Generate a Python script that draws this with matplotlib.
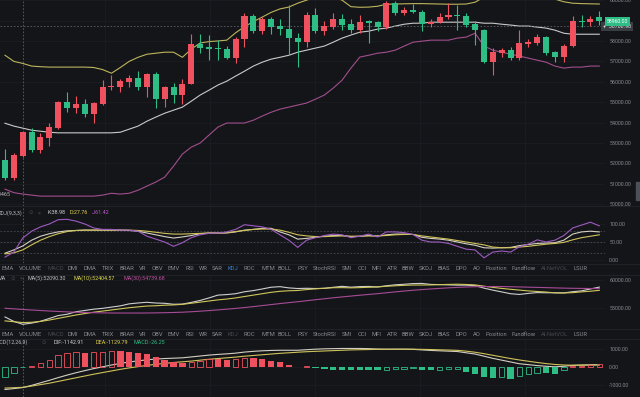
import numpy as np
import matplotlib.pyplot as plt
from matplotlib.patches import Rectangle
from matplotlib.transforms import blended_transform_factory

plt.rcParams['font.family'] = ['Roboto', 'DejaVu Sans']

# candles
opens = [52160, 51280, 52360, 53530, 52650, 53240, 53730, 55000, 54700, 54900,
         54400, 54900, 55740, 55740, 55980, 56180, 55740, 56370, 55150, 55740,
         55350, 55880, 57840, 57700, 57640, 57600, 57160, 58090, 59220, 58480,
         59070, 58730, 58580, 58140, 57940, 59260, 58480, 58690, 59070, 58810,
         58530, 58960, 58910, 58660, 59840, 59350, 59510, 59430, 58820, 58940,
         59180, 59260, 59220, 58810, 58530, 56980, 57420, 57580, 57190, 57860,
         57880, 58170, 57470, 57220, 57750, 58990, 58940, 59150]
closes = [51280, 52405, 53530, 52650, 53290, 53780, 55000, 54700, 54900, 54400,
          54950, 55740, 55790, 56030, 56180, 55740, 56370, 55150, 55740, 55350,
          55880, 57840, 57650, 57600, 57590, 57160, 58090, 59220, 58480, 59070,
          58680, 58580, 58140, 57940, 59260, 58480, 58730, 59100, 58780, 58530,
          58940, 58890, 58660, 59840, 59350, 59510, 59430, 58820, 58940, 59180,
          59260, 59220, 58780, 58530, 56980, 57470, 57580, 57190, 57880, 57930,
          58170, 57420, 57220, 57750, 58990, 58940, 59100, 58960]
highs = [52700, 52500, 53600, 53730, 53480, 53980, 55050, 55500, 55300, 55150,
         55000, 56080, 56330, 56130, 56330, 56520, 56420, 56470, 55800, 55930,
         56130, 58330, 58330, 58280, 58040, 57740, 58190, 59360, 59300, 59150,
         59150, 59060, 59760, 58380, 59400, 59600, 59000, 59350, 59300, 59100,
         59260, 59050, 59000, 59980, 59950, 59650, 59800, 59500, 59100, 59350,
         59850, 59750, 59350, 58960, 58580, 57650, 57650, 57700, 58530, 58100,
         58350, 58250, 57500, 57850, 59200, 59250, 59200, 59450]
lows = [51180, 51200, 52300, 52550, 52500, 52850, 53700, 54500, 54460, 54300,
        53970, 54850, 55600, 55500, 55740, 55600, 55250, 54700, 54750, 54950,
        54900, 55880, 57400, 57060, 57060, 57100, 56900, 57700, 58400, 58350,
        58350, 58280, 57350, 56720, 57700, 58380, 58300, 58600, 58550, 58400,
        58400, 57900, 58500, 58600, 59250, 59250, 59350, 58480, 58700, 58900,
        59100, 58530, 58700, 57800, 56900, 56330, 57230, 57050, 57050, 57700,
        57800, 57300, 56950, 56950, 57700, 58700, 58750, 58800]

# bollinger bands
boll_up = [57300, 57000, 56900, 56770, 56740, 56720, 56720, 56720, 56720, 56720,
           56700, 56600, 56420, 56700, 57000, 57200, 57350, 57400, 57450, 57450,
           57200, 57600, 57900, 57970, 58000, 58040, 58400, 58700, 58950, 59170,
           59400, 59570, 59660, 59850, 60000, 60150, 60200, 60150, 60000, 59680,
           59650, 59660, 59700, 59800, 59810, 59820, 59830, 59830, 59820, 59810,
           59800, 59800, 59810, 59900, 60150, 60400, 60500, 60500, 60450, 60350,
           60250, 60150, 60050, 59920, 59850, 59830, 59820, 59810]
boll_mid = [53970, 53830, 53730, 53630, 53580, 53530, 53500, 53500, 53500, 53500,
            53500, 53500, 53500, 53530, 53680, 53830, 54070, 54270, 54460, 54610,
            54760, 55050, 55350, 55590, 55840, 56030, 56280, 56520, 56770, 56960,
            57110, 57200, 57300, 57450, 57550, 57650, 57750, 57940, 58140, 58290,
            58430, 58480, 58580, 58630, 58730, 58820, 58870, 58870, 58920, 58920,
            58920, 58920, 58920, 58920, 58870, 58870, 58820, 58780, 58730, 58730,
            58680, 58630, 58530, 58380, 58330, 58330, 58330, 58330]
boll_low = [50740, 50570, 50500, 50450, 50400, 50400, 50400, 50400, 50400, 50400,
            50400, 50450, 50540, 50500, 50540, 50690, 50890, 51090, 51330, 51870,
            52460, 52800, 53000, 53390, 53780, 53980, 53980, 53980, 54120, 54320,
            54510, 54660, 54760, 54860, 54960, 55150, 55350, 55690, 56080, 56670,
            57210, 57300, 57400, 57450, 57550, 57750, 57940, 57990, 58040, 58040,
            58040, 58140, 58190, 58380, 57750, 57550, 57450, 57350, 57260, 57160,
            57060, 56960, 56770, 56670, 56720, 56720, 56770, 56770]

# KDJ(9,3,3)
k_vals = [19, 28, 39, 55, 66, 73, 78, 81, 82, 83, 83, 83, 83, 83, 82, 80, 75, 70, 65, 61,
          64, 68, 73, 75, 75, 75, 78, 83, 85, 88, 88, 78, 70, 58, 60, 63, 66, 68, 68, 65,
          66, 68, 66, 70, 72, 72, 71, 63, 60, 58, 55, 50, 45, 41, 34, 33, 34, 35, 40, 43,
          46, 47, 48, 55, 72, 78, 80, 78]
d_vals = [17, 20, 28, 42, 55, 65, 73, 79, 82, 83, 83, 83, 83, 83, 83, 82, 80, 77, 74, 72,
          72, 73, 74, 75, 75, 76, 79, 82, 85, 86, 86, 83, 77, 70, 67, 65, 65, 66, 67, 66,
          66, 67, 67, 68, 70, 71, 71, 67, 64, 61, 58, 54, 50, 46, 42, 36, 34, 34, 36, 38,
          41, 44, 46, 49, 56, 62, 66, 70]
j_vals = [8, 22, 61, 80, 92, 100, 112, 113, 108, 100, 89, 85, 85, 83, 83, 80, 66, 58, 50, 38,
          48, 62, 70, 74, 75, 78, 85, 98, 95, 92, 85, 70, 55, 35, 55, 62, 68, 72, 70, 62,
          66, 72, 64, 78, 78, 76, 71, 55, 50, 50, 46, 38, 30, 28, 6, 22, 25, 22, 37, 44,
          56, 50, 55, 68, 89, 97, 105, 95]

# MA panel
ma5 = [53400, 52600, 52090, 52300, 52630, 53130, 53650, 53880, 54330, 54560,
       54790, 54940, 55160, 55380, 55740, 55900, 56020, 55890, 55840, 55670,
       55700, 56000, 56350, 56800, 57300, 57400, 57550, 57900, 58110, 58400,
       58710, 58810, 58590, 58480, 58520, 58480, 58510, 58700, 58870, 58720,
       58820, 58850, 58760, 58970, 59140, 59240, 59360, 59390, 59210, 59180,
       59130, 59080, 59080, 58990, 58550, 58190, 57870, 57550, 57420, 57610,
       57750, 57720, 57720, 57700, 57910, 58060, 58400, 58730]
ma10 = [52700, 52550, 52400, 52450, 52600, 52850, 53150, 53450, 53750, 54000,
        54250, 54450, 54650, 54850, 55050, 55200, 55350, 55400, 55500, 55550,
        55650, 55850, 56050, 56250, 56450, 56600, 56800, 57050, 57300, 57550,
        57800, 57980, 58080, 58130, 58290, 58420, 58530, 58620, 58640, 58600,
        58640, 58700, 58760, 58880, 58970, 59050, 59100, 59100, 59120, 59170,
        59210, 59250, 59200, 59120, 58900, 58680, 58500, 58340, 58200, 58050,
        57950, 57850, 57700, 57680, 57740, 57880, 58000, 58150]
ma30 = [54950, 54850, 54740, 54640, 54550, 54460, 54380, 54310, 54250, 54200,
        54160, 54130, 54110, 54100, 54100, 54100, 54110, 54130, 54160, 54200,
        54250, 54330, 54430, 54540, 54660, 54790, 54930, 55080, 55250, 55430,
        55610, 55790, 55960, 56120, 56300, 56480, 56650, 56820, 56980, 57130,
        57280, 57420, 57560, 57720, 57880, 58030, 58170, 58290, 58400, 58500,
        58600, 58680, 58750, 58800, 58830, 58840, 58830, 58800, 58760, 58720,
        58680, 58640, 58590, 58550, 58520, 58500, 58480, 58460]

# MACD(12,26,9)
dif = [-1250, -1200, -1143, -1020, -880, -740, -590, -450, -320, -200,
       -90, 10, 110, 200, 280, 340, 400, 440, 470, 490,
       510, 560, 610, 660, 700, 730, 770, 830, 870, 900,
       920, 930, 930, 930, 960, 990, 1010, 1020, 1030, 1030,
       1030, 1020, 1000, 990, 990, 990, 980, 950, 920, 900,
       880, 860, 790, 720, 600, 480, 380, 280, 180, 130,
       80, 40, 10, 40, 90, 110, 120, 130]
dea = [-1170, -1150, -1130, -1060, -980, -900, -800, -700, -600, -500,
       -400, -310, -220, -130, -50, 20, 90, 150, 200, 250,
       290, 330, 380, 430, 470, 510, 550, 600, 640, 680,
       720, 760, 790, 820, 850, 870, 890, 910, 930, 950,
       960, 970, 980, 985, 990, 990, 990, 980, 970, 955,
       940, 925, 880, 820, 740, 650, 560, 470, 390, 320,
       250, 190, 140, 110, 100, 100, 105, 110]
hist = [-540, -350, -26, 70, 200, 390, 670, 760, 850, 800,
        850, 860, 890, 880, 850, 760, 700, 570, 390, 260,
        250, 265, 330, 460, 450, 380, 420, 490, 480, 440,
        360, 270, 130, -20, 30, -30, -120, -140, -150, -160,
        -170, -180, -190, -150, -120, -90, -60, -150, -180, -150,
        -130, -110, -300, -380, -560, -620, -580, -650, -500, -400,
        -330, -360, -380, -150, 40, 80, 110, 140]

price_ticks = [60000, 59000, 58000, 57000, 56000, 55000, 54000, 53000, 52000, 51000, 50000]
kdj_ticks = [0, 50, 100]
ma_ticks = [55000, 60000]
macd_ticks = [-1000, 0, 1000]
last_price = 58708.90
low_mark = 50465

tabs = ['EMA', 'VOLUME', 'MACD', 'DMI', 'DMA', 'TRIX', 'BRAR', 'VR', 'OBV', 'EMV', 'RSI', 'WR',
        'SAR', 'KDJ', 'ROC', 'MTM', 'BOLL', 'PSY', 'StochRSI', 'SMI', 'CCI', 'MFI', 'ATR', 'BBW',
        'SKDJ', 'BIAS', 'DPO', 'AO', 'Position', 'Fundflow', 'AI-NetVOL', 'LSUR']
tab_x = [2, 19, 47, 68, 84, 102, 119, 139, 152, 168, 186, 199, 212, 228, 244, 261, 278, 298,
         313, 342, 358, 372, 387, 402, 419, 438, 456, 473, 486, 512, 541, 574]

BG = '#141519'
UP = '#f0515e'
DOWN = '#2ebd85'
GRID = '#1d1f24'
TXT = '#868991'
DIM = '#44474d'
CROSS = '#5d6067'

W, H = 640, 397
PW = 605
fig = plt.figure(figsize=(W / 100, H / 100), dpi=100, facecolor=BG)

x = np.arange(len(closes))
xlim = ((0 - 5) / 8.87, (PW - 5) / 8.87)
vgrid = [(p - 5) / 8.87 for p in (105, 210, 315, 420, 525)]
cross_i = 2


def panel(top, bottom, ylim, ticks, hide=()):
    ax = fig.add_axes([0, 1 - bottom / H, PW / W, (bottom - top) / H])
    ax.set_facecolor(BG)
    ax.set_xlim(*xlim)
    ax.set_ylim(*ylim)
    for s in ax.spines.values():
        s.set_visible(False)
    ax.set_xticks(vgrid)
    ax.set_xticklabels([])
    ax.tick_params(axis='x', length=0)
    ax.yaxis.tick_right()
    ax.set_yticks(ticks)
    ax.set_yticklabels(['' if t in hide else '{:.2f}'.format(t) for t in ticks])
    ax.tick_params(axis='y', length=0, pad=3, labelsize=3.9, labelcolor=TXT)
    ax.grid(True, color=GRID, lw=0.5)
    ax.axvline(cross_i, color=CROSS, lw=0.6, ls=(0, (2, 2)))
    return ax


def ftext(xp, yp, s, color=TXT, size=3.9, **kw):
    fig.text(xp / W, 1 - yp / H, s, color=color, fontsize=size, va='center', **kw)


# separators
for yp in (206, 263.5, 274.5, 328.5, 338.5):
    fig.add_artist(plt.Line2D([0, 1], [1 - yp / H] * 2, color='#23252a', lw=0.6))

# ---- price panel ----
ax = panel(0, 206, (60000 - 206 * 48.95, 60000 + 0.14 * 48.95), price_ticks, hide=(59000,))
colors = [UP if c >= o else DOWN for o, c in zip(opens, closes)]
ax.vlines(x, lows, highs, colors=colors, lw=0.8, zorder=3)
bottoms = [min(o, c) for o, c in zip(opens, closes)]
heights = [max(abs(c - o), 50) for o, c in zip(opens, closes)]
ax.bar(x, heights, bottom=bottoms, width=0.68, color=colors, zorder=4)
ax.plot(x, boll_up, color='#bdb45c', lw=0.8, zorder=2)
ax.plot(x, boll_mid, color='#c9c9c9', lw=0.8, zorder=2)
ax.plot(x, boll_low, color='#a04e8c', lw=0.8, zorder=2)
ax.axhline(last_price, color=CROSS, lw=0.6, ls=(0, (2, 2)))
tr = blended_transform_factory(ax.transAxes, ax.transData)
ax.text(1 - 2 / PW, last_price, '+  {:.2f}'.format(last_price), transform=tr, fontsize=3.9,
        color='#e6e6e6', va='center', ha='left', clip_on=False, zorder=10,
        bbox=dict(boxstyle='square,pad=0.35', fc='#3a3d44', ec='none'))
ax.text(1 + 2 / PW, closes[-1], '{:.2f}'.format(closes[-1]), transform=tr, fontsize=3.7,
        color='#ffffff', va='center', ha='left', clip_on=False, zorder=10,
        bbox=dict(boxstyle='square,pad=0.35', fc=DOWN, ec='none'))
ax.text((11 - 5) / 8.87, low_mark, str(low_mark), fontsize=3.9, color='#bdbdbd',
        ha='right', va='center', clip_on=False)

# ---- KDJ panel ----
ax = panel(207, 263, (-(263 - 260) / 0.36, (260 - 207) / 0.36), kdj_ticks)
for lv in (20, 50, 80):
    ax.axhline(lv, color='#4a4d55', lw=0.6, ls=(0, (2, 2)))
ax.plot(x, k_vals, color='#d6d0c4', lw=0.8)
ax.plot(x, d_vals, color='#cfc25a', lw=0.8)
ax.plot(x, j_vals, color='#9d5bc0', lw=0.8)
ftext(-3, 213, 'KDJ(9,3,3)', color='#b5b8be')
ftext(29, 213, '⊙', color=DIM)
ftext(38, 213, '×', color=DIM)
ftext(47, 213, 'K:{:.2f}'.format(38.98), color='#cfcfcf')
ftext(69, 213, 'D:{:.2f}'.format(27.76), color='#e2d44e')
ftext(92, 213, 'J:{:.2f}'.format(61.42), color='#b45cc4')

# ---- MA panel ----
ax = panel(274.5, 328.5, (60000 - 48.5 * 178.57, 60000 + 5.5 * 178.57), ma_ticks)
ax.plot(x, ma5, color='#cfcfcf', lw=0.8)
ax.plot(x, ma10, color='#cfc65a', lw=0.8)
ax.plot(x, ma30, color='#a64c96', lw=0.8)
ftext(-2, 278, 'MA', color='#b5b8be')
ftext(11, 278, '⊙', color=DIM)
ftext(20, 278, '×', color=DIM)
ftext(28, 278, 'MA(5):52090.30', color='#bfbfbf')
ftext(74, 278, 'MA(10):52404.57', color='#e0dc50')
ftext(123, 278, 'MA(30):54739.68', color='#c050a0')

# ---- MACD panel ----
ax = panel(338.5, 397, (-(397 - 367) / 0.018, (367 - 338.5) / 0.018), macd_ticks)
prev = [hist[0] - 1] + hist[:-1]
for i, (h, p) in enumerate(zip(hist, prev)):
    c = UP if h >= 0 else DOWN
    if h < p:
        ax.bar(i, h, width=0.72, color=c, zorder=3)
    else:
        ax.bar(i, h, width=0.62, facecolor='none', edgecolor=c, lw=0.6, zorder=3)
ax.plot(x, dif, color='#d2cfc2', lw=0.8)
ax.plot(x, dea, color='#cfc25a', lw=0.8)
ftext(-8, 342, 'MACD(12,26,9)', color='#b5b8be')
ftext(42, 342, '⊙', color=DIM)
ftext(53, 342, 'DIF:-1142.91', color='#cfcfcf')
ftext(96, 342, 'DEA:-1129.79', color='#e2d44e')
ftext(134, 342, 'MACD:-26.25', color=DOWN)

# ---- indicator tab rows ----
for yp, active, dim in ((269, 'KDJ', ('MACD', 'AI-NetVOL')), (334, None, ('MACD', 'KDJ', 'AI-NetVOL'))):
    for name, xp in zip(tabs, tab_x):
        col = '#3d7fd6' if name == active else (DIM if name in dim else TXT)
        ftext(xp, yp, name, color=col, size=4.2)

fig.add_artist(Rectangle((636 / W, 1 - 200 / H), 3 / W, 18 / H, transform=fig.transFigure,
                         color='#4d5056'))

fig.savefig('out.png', dpi=100, facecolor=BG)
